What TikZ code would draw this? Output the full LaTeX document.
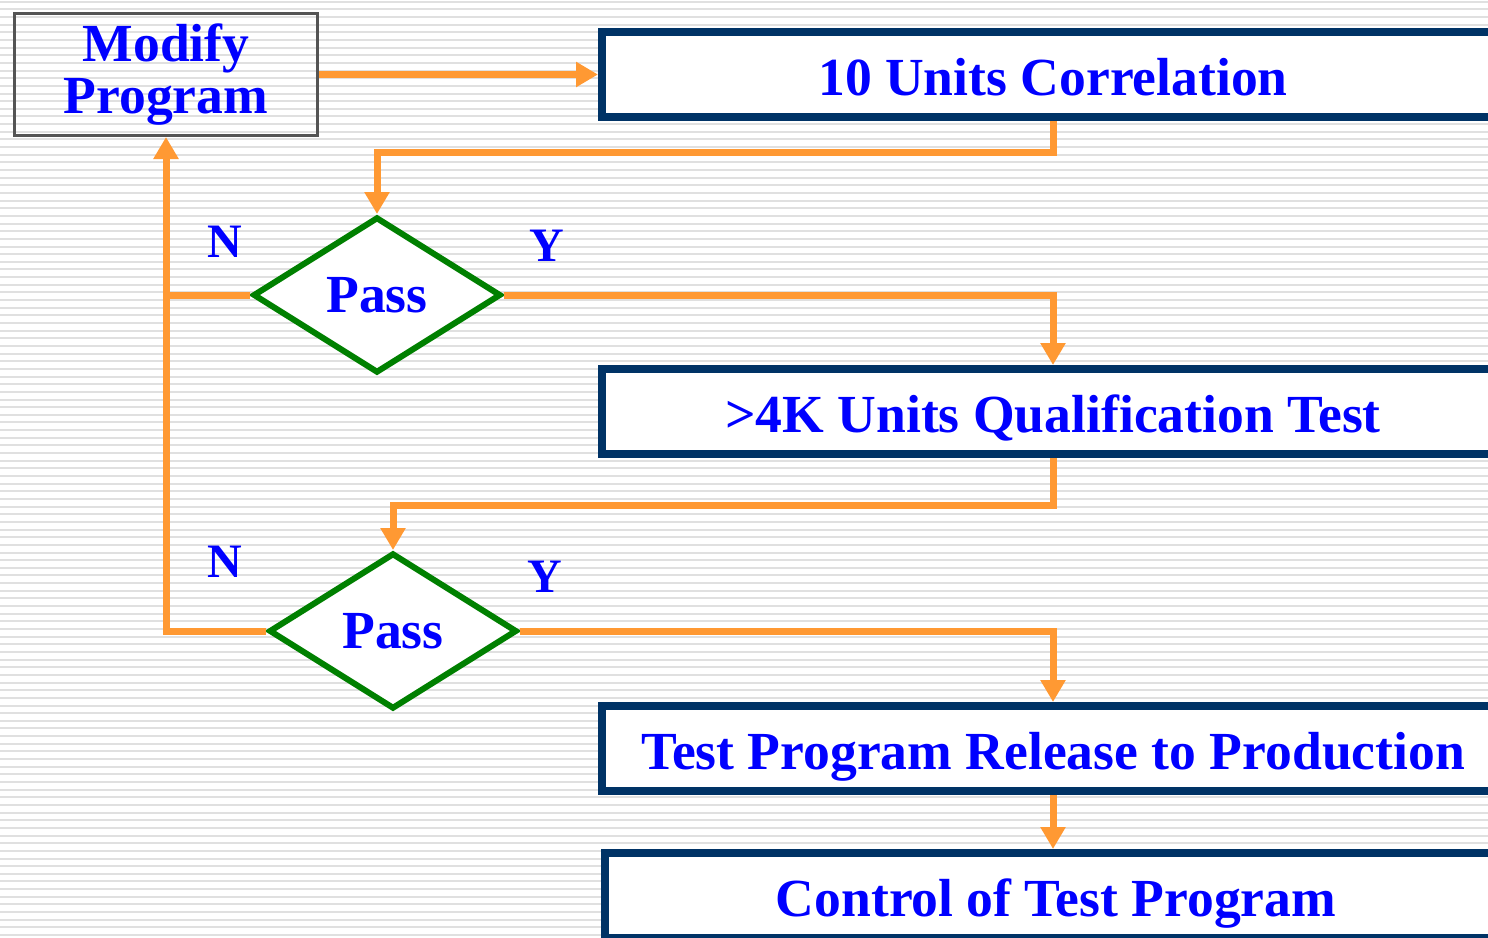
\documentclass[tikz,border=0pt]{standalone}
\usepackage{fontspec}
\setmainfont{Liberation Serif}
\usepackage{xcolor}
\usetikzlibrary{shapes.geometric,arrows.meta}

\definecolor{flowOrange}{HTML}{FF9933}
\definecolor{boxNavy}{HTML}{003366}
\definecolor{passGreen}{HTML}{008000}
\definecolor{textBlue}{HTML}{0000FF}
\definecolor{stripeGray}{HTML}{E0E0E0}

\begin{document}
\begin{tikzpicture}[
    x=0.5pt, y=-0.5pt,
    stage/.style={rectangle, draw=boxNavy, line width=4pt, fill=white,
        minimum width=451pt, minimum height=42.5pt, inner sep=0pt,
        text height=24pt, text depth=3.5pt,
        text=textBlue, font=\fontsize{26.8}{26}\selectfont\bfseries},
    modbox/.style={rectangle, draw=black!67, line width=1.5pt,
        minimum width=151.5pt, minimum height=61pt, inner sep=0pt, align=center,
        text=textBlue, font=\fontsize{26.8}{26}\selectfont\bfseries},
    decision/.style={diamond, draw=passGreen, line width=3pt, fill=white,
        minimum width=124pt, minimum height=78pt, inner sep=0pt,
        text=textBlue, font=\fontsize{26.8}{26}\selectfont\bfseries},
    answer/.style={text=textBlue, font=\fontsize{24}{24}\selectfont\bfseries},
    flow/.style={draw=flowOrange, line width=3.5pt,
        -{Triangle[width=12pt,length=11pt]}},
    link/.style={draw=flowOrange, line width=3.5pt}
]

% Hintergrund mit Streifen
\useasboundingbox (0,0) rectangle (1488,937);
\clip (0,0) rectangle (1488,937);
\fill[white] (0,0) rectangle (1488,937);
\foreach \i in {0,...,122}
    \draw[stripeGray, line width=1pt] (0,{1.7+7.65*\i}) -- (1488,{1.7+7.65*\i});

% Kaesten
\node[modbox] (modify) at (166,74.5) {Modify\\Program};
\node[stage] (corr) at (1053,74.5) {10 Units Correlation};
\node[stage] (qual) at (1053,411.5) {>4K Units Qualification Test};
\node[stage] (release) at (1053,748.5) {Test Program Release to Production};
\node[stage] (control) at (1056,895.5) {Control of Test Program};

% Entscheidungen
\node[decision] (pass1) at (377,295) {Pass};
\node[decision] (pass2) at (393,631) {Pass};

\node[answer] (n1) at (225,242) {N};
\node[answer] (y1) at (547,246) {Y};
\node[answer] (n2) at (225,562) {N};
\node[answer] (y2) at (545,577) {Y};

% Verbindungen
\draw[flow] (modify.east) -- (corr.west);
\draw[flow] (corr.south) -- ++(0,31) -| (pass1.north);
\draw[flow] (pass1.east) -| (qual.north);
\draw[flow] (qual.south) -- ++(0,47) -| (pass2.north);
\draw[flow] (pass2.east) -| (release.north);
\draw[flow] (release.south) -- (release.south |- control.north);

\draw[link] (pass1.west) -- (pass1.west -| modify.south);
\draw[flow] (pass2.west) -| (modify.south);

\end{tikzpicture}
\end{document}
